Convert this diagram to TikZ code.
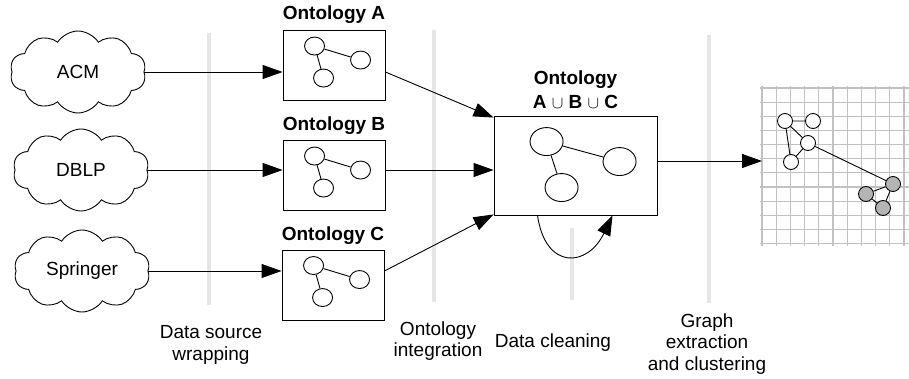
\documentclass[tikz,border=0pt]{standalone}
\usepackage{fontspec}
\setmainfont{Liberation Sans}
\usetikzlibrary{shapes.geometric, shapes.symbols, arrows.meta, positioning}
\definecolor{sepgray}{HTML}{E6E6E6}
\definecolor{gridgray}{HTML}{C2C2C2}
\definecolor{clustgray}{HTML}{B4B4B4}

\begin{document}
\begin{tikzpicture}[
  x=1pt, y=-1pt,
  font=\fontsize{19}{21.5}\selectfont,
  line width=0.9pt,
  src/.style={cloud, draw, cloud puffs=10, cloud puff arc=115, cloud ignores aspect,
              minimum width=136pt, minimum height=82pt, inner sep=0pt},
  onto/.style={rectangle, draw, minimum width=102pt, minimum height=70pt, inner sep=0pt},
  ontolabel/.style={font=\fontsize{19}{24.5}\selectfont\bfseries, inner sep=0pt},
  vert/.style={ellipse, draw, minimum width=20pt, minimum height=18pt, inner sep=0pt},
  bigvert/.style={ellipse, draw, minimum width=33pt, minimum height=28pt, inner sep=0pt},
  gvert/.style={circle, draw, fill=white, minimum size=15pt, inner sep=0pt},
  sep/.style={sepgray, line width=4.5pt},
  gridline/.style={gridgray, line width=1.1pt},
  stage/.style={align=center, inner sep=0pt},
  arr/.style={-{Triangle[length=20pt, width=14pt]}, line width=0.9pt}
]
  \useasboundingbox (0,0) rectangle (909,379);

  \draw[sep] (209,33) -- (209,305);
  \draw[sep] (434,30) -- (434,302);
  \draw[sep] (572,228) -- (572,300);
  \draw[sep] (709,35) -- (709,303);

  \foreach \i in {0,...,10}
    \draw[gridline] (762+14.2*\i,86) -- (762+14.2*\i,246);
  \foreach \j in {0,...,11}
    \draw[gridline] (760,88+14.15*\j) -- (909,88+14.15*\j);

  \node[src] (acm)      at (78,72)  {ACM};
  \node[src] (dblp)     at (81,170) {DBLP};
  \node[src] (springer) at (82,271) {Springer};

  \node[onto] (ontA) at (334,65.5)  {};
  \node[onto] (ontB) at (334,175.5) {};
  \node[onto] (ontC) at (333,285)   {};
  \node[ontolabel, anchor=base] at ([yshift=11pt]ontA.north) {Ontology A};
  \node[ontolabel, anchor=base] at ([yshift=10pt]ontB.north) {Ontology B};
  \node[ontolabel, anchor=base] at ([yshift=9pt]ontC.north)  {Ontology C};

  \foreach \o in {ontA,ontB,ontC}{
    \begin{scope}[shift={(\o.north west)}]
      \node[vert] (\o-1) at (32,16) {};
      \node[vert] (\o-2) at (78,30) {};
      \node[vert] (\o-3) at (41,48) {};
    \end{scope}
    \draw (\o-1) -- (\o-2) (\o-1) -- (\o-3);
  }

  \node[onto, minimum width=163pt, minimum height=99pt] (union) at (575.5,165.5) {};
  \node[ontolabel, align=center, anchor=south] at ([yshift=6pt]union.north)
    {Ontology\\A $\cup$ B $\cup$ C};
  \begin{scope}[shift={(union.north west)}]
    \node[bigvert] (u1) at (53,26) {};
    \node[bigvert] (u2) at (126,46) {};
    \node[bigvert] (u3) at (68,72) {};
  \end{scope}
  \draw (u1) -- (u2) (u1) -- (u3);

  \node[gvert] (c1) at (785,121) {};
  \node[gvert] (c2) at (813,121) {};
  \node[gvert] (c3) at (808,143) {};
  \node[gvert] (c4) at (791,162) {};
  \node[gvert, fill=clustgray] (d1) at (893,184) {};
  \node[gvert, fill=clustgray] (d2) at (866,194) {};
  \node[gvert, fill=clustgray] (d3) at (883,208) {};
  \draw (c1) -- (c2) (c1) -- (c3) (c1) -- (c4) (c3) -- (c4) (c3) -- (d1)
        (d1) -- (d2) (d1) -- (d3) (d2) -- (d3);
  \coordinate (gridin) at (762,161);

  \draw[arr] (acm.east) -- (acm.east -| ontA.west);
  \draw[arr] (dblp.east) -- (dblp.east -| ontB.west);
  \draw[arr] (springer.east) -- (springer.east -| ontC.west);
  \draw[arr] (ontA.east |- acm) -- ([yshift=-2pt]union.north west);
  \draw[arr] (ontB.east |- dblp) -- (union.west |- dblp);
  \draw[arr] (ontC.east |- springer) -- ([yshift=1pt]union.south west);
  \draw[arr] ([xshift=-38pt]union.south) .. controls +(8,55) and +(-25,52) .. ([xshift=37pt]union.south);
  \draw[arr] (union.east |- gridin) -- (gridin);

  \node[stage] (wrap)  at (211,345) {Data source\\wrapping};
  \node[stage] (integ) at (438,341) {Ontology\\integration};
  \node[stage] (clean) at (553,343) {Data cleaning};
  \node[stage] (extr)  at (707,344) {Graph\\extraction\\and clustering};
\end{tikzpicture}
\end{document}
